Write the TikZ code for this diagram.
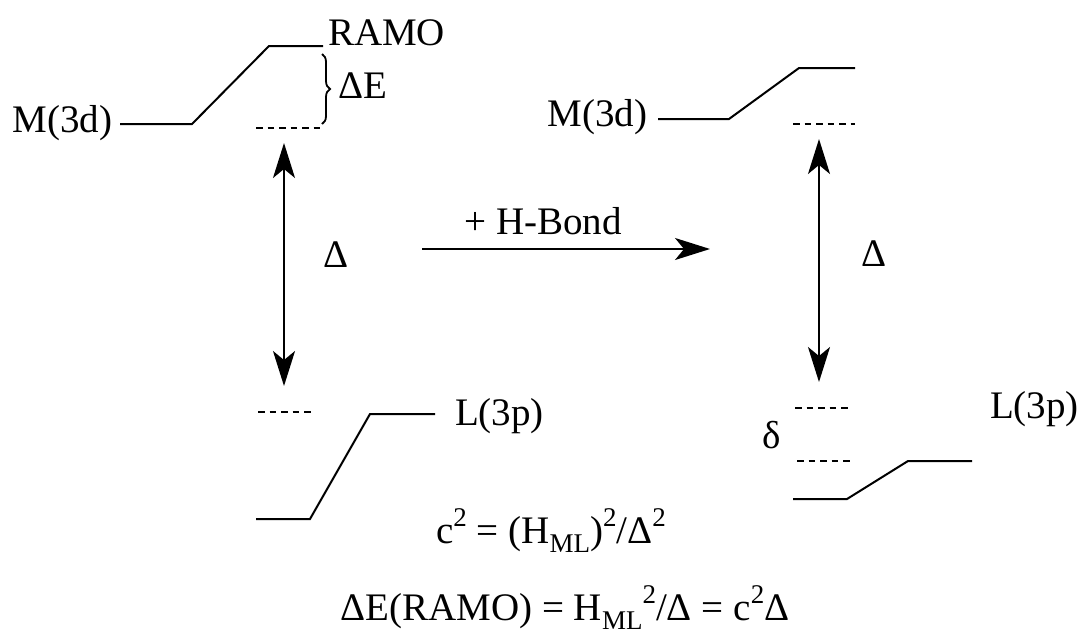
\documentclass[tikz,border=0pt]{standalone}
\usepackage{fontspec}
\setmainfont{Liberation Serif}
\usetikzlibrary{arrows.meta,decorations.pathreplacing}
\newcommand{\upscr}[1]{\raisebox{0.42em}{\fontsize{27}{27}\selectfont #1}}
\newcommand{\dnscr}[1]{\raisebox{-0.24em}{\fontsize{27}{27}\selectfont #1}}
\begin{document}
\begin{tikzpicture}[x=1pt, y=-1pt, >={Stealth[length=35pt,width=22pt,inset=9pt]},
    line width=2pt,
    lbl/.style={inner sep=0pt, font=\fontsize{39}{44}\selectfont},
    level/.style={line width=2pt},
    virt/.style={line width=1.8pt, dash pattern=on 6.5pt off 5pt}]
    \useasboundingbox (0,0) rectangle (1085,633);
    % before H-bond
    \node[lbl, anchor=base east] (m3dA) at (113,132) {M(3d)};
    \draw[level] (120,124) -- (192,124) -- (269,46) -- (323,46);
    \node[lbl, anchor=base west] (ramo) at (327,45) {RAMO};
    \draw[virt] (256,128) -- (320,128);
    \draw[decorate, decoration={brace, amplitude=8pt}, line width=1.8pt] (322,54) -- (322,124);
    \node[lbl, anchor=base west] (dEA) at (337,98) {ΔE};
    \coordinate (topA) at (284,143);
    \coordinate (botA) at (284,386);
    \draw[<->] (topA) -- (botA);
    \node[lbl] (gapA) at (336,255) {Δ};
    \draw[virt] (258,412) -- (313,412);
    \draw[level] (256,519) -- (310,519) -- (370,414) -- (435,414);
    \node[lbl, anchor=base west] (l3pA) at (454,425) {L(3p)};
    % H-bond arrow
    \coordinate (hbS) at (422,249);
    \coordinate (hbE) at (710,249);
    \draw[->] (hbS) -- (hbE);
    \node[lbl, anchor=base] (hbond) at (543,234) {+ H-Bond};
    % after H-bond
    \node[lbl, anchor=base east] (m3dB) at (648,126) {M(3d)};
    \draw[level] (658,119) -- (729,119) -- (799,68) -- (855,68);
    \draw[virt] (793,124) -- (855,124);
    \coordinate (topB) at (819,139);
    \coordinate (botB) at (819,382);
    \draw[<->] (topB) -- (botB);
    \node[lbl] (gapB) at (874,254) {Δ};
    \draw[virt] (795,408) -- (851,408);
    \draw[virt] (797,461) -- (851,461);
    \node[lbl] (dlt) at (772,435) {δ};
    \draw[level] (793,499) -- (847,499) -- (908,461) -- (972,461);
    \node[lbl, anchor=base west] (l3pB) at (989,418) {L(3p)};
    % formulas
    \node[lbl, anchor=base] (cfrm) at (551,543) {c\upscr{2} = (H\dnscr{ML})\upscr{2}/Δ\upscr{2}};
    \node[lbl, anchor=base] (efrm) at (565,620) {ΔE(RAMO) = H\dnscr{ML}\upscr{2}/Δ = c\upscr{2}Δ};
\end{tikzpicture}
\end{document}
